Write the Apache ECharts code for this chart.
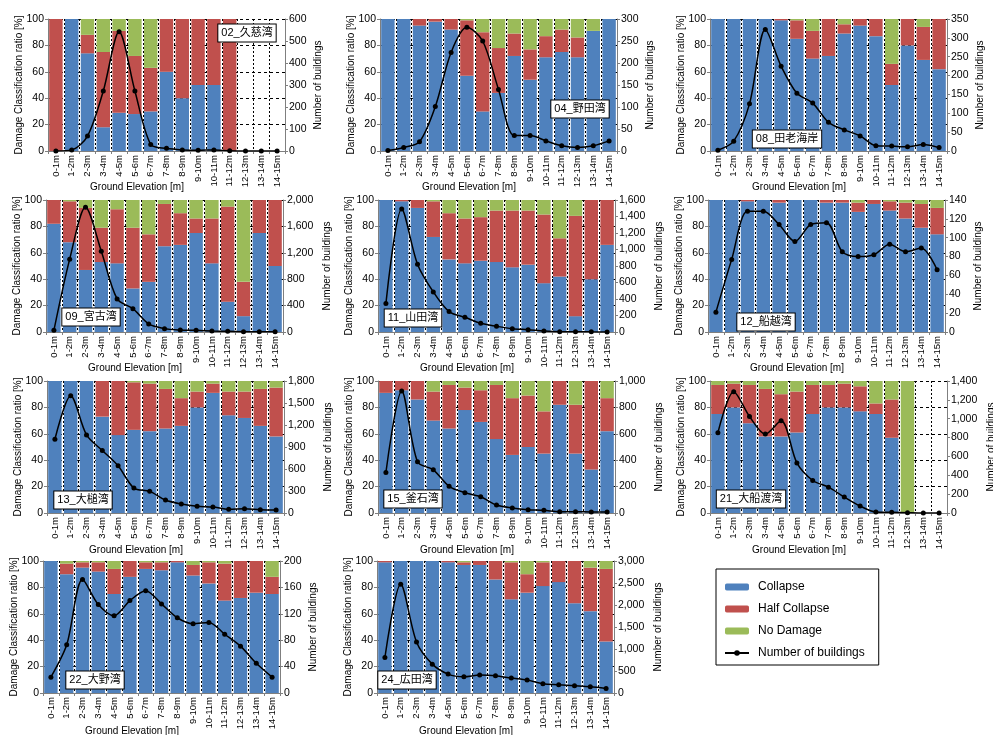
<!DOCTYPE html>
<html><head><meta charset="utf-8">
<script src="https://cdn.jsdelivr.net/npm/echarts@6/dist/echarts.min.js"></script>
<style>html,body{margin:0;padding:0;background:#fff}#c{width:993px;height:735px}</style>
</head><body><div id="c"></div>
<script>
// ---------- DATA ----------
const categories = ['0-1m','1-2m','2-3m','3-4m','4-5m','5-6m','6-7m','7-8m','8-9m','9-10m','10-11m','11-12m','12-13m','13-14m','14-15m'];
const seriesNames = ['Collapse','Half Collapse','No Damage','Number of buildings'];

const panelNames = ['02_久慈湾','04_野田湾','08_田老海岸','09_宮古湾','11_山田湾','12_船越湾','13_大槌湾','15_釜石湾','21_大船渡湾','22_大野湾','24_広田湾'];
const rightAxisMax  = [600, 300, 350, 2000, 1600, 140, 1800, 1000, 1400, 200, 3000];
const rightAxisStep = [100, 50, 50, 400, 200, 20, 300, 200, 200, 40, 500];

const kuji_collapse = [0,100,74,18,29,28,30,60,40,50,50,0,0,0,0];
const kuji_half     = [100,0,14,57,62,44,33,40,60,50,50,100,0,0,0];
const kuji_none     = [0,0,12,25,9,28,37,0,0,0,0,0,0,0,0];
const kuji_count    = [0,5,68,273,542,273,30,12,5,3,5,1,0,0,0];

const noda_collapse = [100,100,95,98,92,57,30,44,72,54,71,75,71,91,100];
const noda_half     = [0,0,5,2,8,42,60,34,17,23,16,17,15,0,0];
const noda_none     = [0,0,0,0,0,1,10,22,11,23,13,8,14,9,0];
const noda_count    = [1,8,21,101,224,281,250,140,35,35,23,12,8,12,23];

const taro_collapse = [100,100,100,100,99,85,70,72,89,95,87,50,80,69,62];
const taro_half     = [0,0,0,0,1,14,21,28,7,5,13,16,20,25,38];
const taro_none     = [0,0,0,0,0,1,9,0,4,0,0,34,0,6,0];
const taro_count    = [2,26,125,322,225,153,127,76,56,40,14,13,11,17,9];

const miyako_collapse = [82,68,47,53,52,33,38,65,66,75,52,23,12,75,50];
const miyako_half     = [18,31,47,26,41,46,36,32,24,11,34,72,26,25,50];
const miyako_none     = [0,1,6,21,7,21,26,3,10,14,14,5,62,0,0];
const miyako_count    = [25,1104,1889,1225,501,354,122,51,30,25,15,10,5,3,2];

const yamada_collapse = [100,99,94,72,55,52,54,53,49,51,37,42,12,40,66];
const yamada_half     = [0,1,6,27,35,34,33,39,43,41,52,29,76,60,34];
const yamada_none     = [0,0,0,1,10,14,13,8,8,8,11,29,12,0,0];
const yamada_count    = [344,1491,822,486,247,178,105,69,40,28,12,4,4,2,1];

const funakoshi_collapse = [100,100,99,100,98,100,100,98,98,91,97,92,86,79,74];
const funakoshi_half     = [0,0,1,0,2,0,0,2,2,7,3,7,12,18,20];
const funakoshi_none     = [0,0,0,0,0,0,0,0,0,2,0,1,2,3,6];
const funakoshi_count    = [21,77,128,128,114,96,114,116,85,80,82,93,85,89,66];

const otsuchi_collapse = [100,100,100,73,59,63,62,64,66,80,91,74,72,66,58];
const otsuchi_half     = [0,0,0,27,41,36,36,30,21,12,7,18,20,28,37];
const otsuchi_none     = [0,0,0,0,0,1,2,6,13,8,2,8,8,6,5];
const otsuchi_count    = [1006,1600,1065,852,644,340,295,177,122,91,82,50,59,45,41];

const kamaishi_collapse = [91,93,86,70,64,78,69,56,44,50,45,82,45,33,62];
const kamaishi_half     = [9,7,14,22,33,17,24,41,43,39,32,18,37,67,25];
const kamaishi_none     = [0,0,0,8,3,5,7,3,13,11,23,0,18,0,13];
const kamaishi_count    = [307,924,388,327,202,154,123,60,38,25,20,10,10,8,8];

const ofunato_collapse = [75,80,68,58,58,61,75,80,80,77,75,57,0,0,0];
const ofunato_half     = [22,18,29,36,32,31,22,17,18,19,8,29,0,0,0];
const ofunato_none     = [3,2,3,6,10,8,3,3,2,4,17,14,100,0,0];
const ofunato_count    = [851,1287,1024,837,978,531,345,274,169,74,10,7,3,0,0];

const ono_collapse = [100,90,95,92,75,88,94,93,99,89,83,70,72,76,75];
const ono_half     = [0,8,4,7,19,12,5,6,1,8,16,28,28,24,13];
const ono_none     = [0,2,1,1,6,0,1,1,0,3,1,2,0,0,12];
const ono_count    = [24,73,172,134,117,140,155,135,114,105,107,89,71,45,24];

const hirota_collapse = [99,100,100,100,99,97,97,86,71,76,81,84,68,62,39];
const hirota_half     = [1,0,0,0,1,2,3,14,28,14,18,16,32,33,55];
const hirota_none     = [0,0,0,0,0,1,0,0,1,10,1,0,0,5,6];
const hirota_count    = [807,2472,1161,656,430,369,407,392,339,294,211,188,166,143,105];

const panelData = [
  [kuji_collapse, kuji_half, kuji_none, kuji_count],
  [noda_collapse, noda_half, noda_none, noda_count],
  [taro_collapse, taro_half, taro_none, taro_count],
  [miyako_collapse, miyako_half, miyako_none, miyako_count],
  [yamada_collapse, yamada_half, yamada_none, yamada_count],
  [funakoshi_collapse, funakoshi_half, funakoshi_none, funakoshi_count],
  [otsuchi_collapse, otsuchi_half, otsuchi_none, otsuchi_count],
  [kamaishi_collapse, kamaishi_half, kamaishi_none, kamaishi_count],
  [ofunato_collapse, ofunato_half, ofunato_none, ofunato_count],
  [ono_collapse, ono_half, ono_none, ono_count],
  [hirota_collapse, hirota_half, hirota_none, hirota_count]
];

// ---------- LAYOUT ----------
const gridPos = [
  {l:48, t:19}, {l:380, t:19}, {l:710, t:19},
  {l:46, t:200}, {l:378, t:200}, {l:708, t:200},
  {l:47, t:381}, {l:378, t:381}, {l:710, t:381},
  {l:43, t:561}, {l:377, t:561}
];
const gridW = 237, gridH = 132;
const xTitleY = [187,187,187,368,368,368,550,550,550,731,731];
const labelBox = [
  [247,33],[580,109],[787,139],[91,317],[413,318],[766,322],[83,500],[413,499],[751,499],[95,680],[407,680]
];
const colors = ['#4F81BD','#C0504D','#9BBB59'];
const FONT = '"Liberation Sans", Arial, sans-serif';
const CJK = '"Liberation Sans", "Noto Sans CJK JP", sans-serif';
const AX = '#7f7f7f';

const grids = [], xAxes = [], yAxes = [], series = [], graphics = [];
gridPos.forEach((g, i) => {
  grids.push({left:g.l, top:g.t, width:gridW, height:gridH});
  xAxes.push({
    type:'category', gridIndex:i, data:categories,
    axisLine:{lineStyle:{color:AX}},
    axisTick:{show:true, length:3, lineStyle:{color:AX}},
    axisLabel:{rotate:90, interval:0, fontSize:9.5, color:'#000', margin:4, fontFamily:FONT},
    splitLine:{show:true, interval:0, lineStyle:{color:'#000', type:[2,2], width:1}}
  });
  yAxes.push({
    type:'value', gridIndex:i, position:'left', min:0, max:100, interval:20,
    axisLine:{show:true, lineStyle:{color:AX}},
    axisTick:{show:true, length:3, lineStyle:{color:AX}},
    axisLabel:{fontSize:10.5, color:'#000', margin:4, fontFamily:FONT},
    splitLine:{show:true, lineStyle:{color:'#000', type:[3,3], width:1}}
  });
  yAxes.push({
    type:'value', gridIndex:i, position:'right', min:0, max:rightAxisMax[i], interval:rightAxisStep[i],
    axisLine:{show:true, lineStyle:{color:AX}},
    axisTick:{show:true, length:3, lineStyle:{color:AX}},
    axisLabel:{fontSize:10.5, color:'#000', margin:4, fontFamily:FONT,
      formatter: v => v.toLocaleString('en-US')},
    splitLine:{show:false}
  });
  const d = panelData[i];
  for (let k = 0; k < 3; k++) {
    series.push({
      type:'bar', name:seriesNames[k], xAxisIndex:i, yAxisIndex:2*i, stack:'s'+i,
      data:d[k], itemStyle:{color:colors[k]}, barCategoryGap:'15%'
    });
  }
  series.push({
    type:'line', name:seriesNames[3], xAxisIndex:i, yAxisIndex:2*i+1, data:d[3],
    symbol:'circle', symbolSize:5, smooth:0.3, z:5,
    lineStyle:{color:'#000', width:1.5}, itemStyle:{color:'#000'}
  });
  const cy = g.t + gridH/2;
  graphics.push({type:'text', x:g.l-29, y:cy, rotation:Math.PI/2,
    style:{text:'Damage Classification ratio [%]', font:'10px '+FONT, fill:'#000', align:'center', verticalAlign:'middle'}});
  const off = rightAxisMax[i] >= 1000 ? 44 : 33;
  graphics.push({type:'text', x:g.l+gridW+off, y:cy, rotation:Math.PI/2,
    style:{text:'Number of buildings', font:'10px '+FONT, fill:'#000', align:'center', verticalAlign:'middle'}});
  graphics.push({type:'text', x:g.l+89, y:xTitleY[i],
    style:{text:'Ground Elevation [m]', font:'10px '+FONT, fill:'#000', align:'center', verticalAlign:'middle'}});
  graphics.push({type:'text', x:labelBox[i][0], y:labelBox[i][1], z:100,
    style:{text:panelNames[i], font:'11px '+CJK, fill:'#000', align:'center', verticalAlign:'middle',
      backgroundColor:'#fff', borderColor:'#000', borderWidth:1, padding:[2,3,2,3], lineHeight:13}});
});

const chart = echarts.init(document.getElementById('c'), null, {renderer:'canvas'});
chart.setOption({
  animation:false,
  backgroundColor:'#fff',
  grid:grids, xAxis:xAxes, yAxis:yAxes, series:series,
  legend:{
    data:seriesNames, orient:'vertical', left:716, top:569,
    itemWidth:24, itemHeight:7, itemGap:10,
    textStyle:{fontSize:12, color:'#000', fontFamily:FONT, padding:[0,0,0,4]},
    borderColor:'#000', borderWidth:1, padding:[12,14,6,8], selectedMode:false
  },
  graphic:graphics
});
</script></body></html>
